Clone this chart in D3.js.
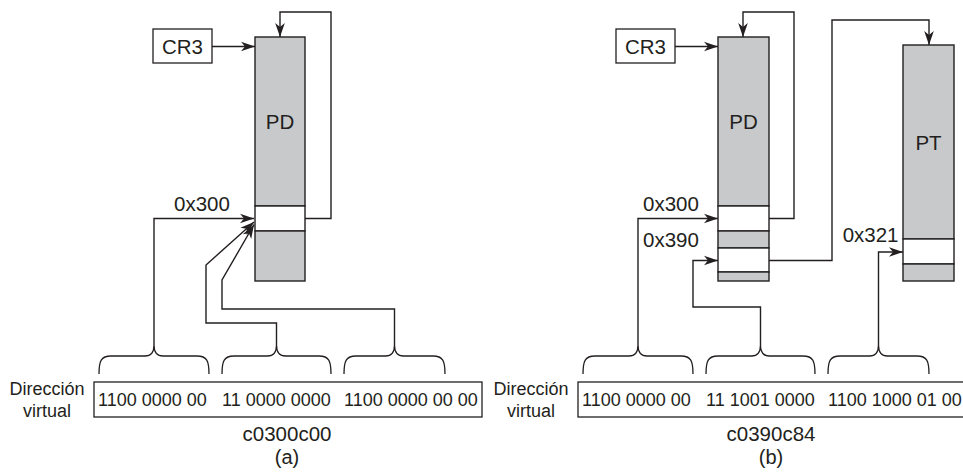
<!DOCTYPE html>
<html><head><meta charset="utf-8">
<script src="https://cdn.jsdelivr.net/npm/d3@7"></script>
<style>html,body{margin:0;padding:0;background:#fff;overflow:hidden}
text{font-family:"Liberation Sans",Arimo,Helvetica,Arial,sans-serif}</style>
</head><body>
<script>
// ---- data ----
const panels = ["a", "b"];
const captions = ["(a)", "(b)"];
const hexAddresses = ["c0300c00", "c0390c84"];
const bitGroupsA = ["1100 0000 00", "11 0000 0000", "1100 0000 00 00"];
const bitGroupsB = ["1100 0000 00", "11 1001 0000", "1100 1000 01 00"];
const addrLabel = ["Dirección", "virtual"];
const registerName = "CR3";
const tableNames = ["PD", "PT"];
const pdIndexA = ["0x300"];
const pdIndexB = ["0x300", "0x390"];
const ptIndexB = ["0x321"];
// table segment kinds top->bottom (e = empty/gray, s = selected entry)
const pdSegmentsA = ["e", "s", "e"];
const pdSegmentsB = ["e", "s", "e", "s", "e"];
const ptSegmentsB = ["e", "s", "e"];

// ---- layout ----
const W = 963, H = 475;
const ink = "#231f20", grey = "#c8c9cb";
const topShift = d3.scaleOrdinal(panels, [0, 463]);
const botShift = d3.scaleOrdinal(panels, [0, 484]);

const svg = d3.select("body").append("svg").attr("width", W).attr("height", H);

svg.append("defs").append("marker").attr("id", "ah")
  .attr("viewBox", "-14 -6 15 12").attr("markerUnits", "userSpaceOnUse")
  .attr("markerWidth", 15).attr("markerHeight", 12).attr("refX", 0).attr("refY", 0)
  .attr("orient", "auto")
  .append("path").attr("d", "M0,0 L-14,-4.8 L-10,0 L-14,4.8 Z").attr("fill", ink);

const line = d3.line();
function arrow(g, pts, head = true) {
  g.append("path").attr("d", line(pts)).attr("fill", "none").attr("stroke", ink)
    .attr("stroke-width", 1.4).attr("marker-end", head ? "url(#ah)" : null);
}
function txt(g, x, y, s, size, anchor = "middle") {
  g.append("text").attr("x", x).attr("y", y).attr("text-anchor", anchor)
    .attr("font-family", "Liberation Sans, Arimo, Helvetica, Arial, sans-serif")
    .attr("font-size", size).attr("fill", ink).text(s);
}
function brace(g, x1, x2, yTip, yH, yEnd) {
  const xc = (x1 + x2) / 2;
  const p = d3.path();
  p.moveTo(x1, yEnd);
  p.bezierCurveTo(x1, yH + 5, x1 + 2, yH, x1 + 12, yH);
  p.lineTo(xc - 9, yH);
  p.bezierCurveTo(xc - 3, yH, xc, yH - 4, xc, yTip);
  p.bezierCurveTo(xc, yH - 4, xc + 3, yH, xc + 9, yH);
  p.lineTo(x2 - 12, yH);
  p.bezierCurveTo(x2 - 2, yH, x2, yH + 5, x2, yEnd);
  g.append("path").attr("d", p.toString()).attr("fill", "none")
    .attr("stroke", ink).attr("stroke-width", 1.3);
  return xc;
}
function table(g, x, y0, w, bounds, kinds) {
  kinds.forEach((k, i) => {
    g.append("rect").attr("x", x).attr("y", bounds[i]).attr("width", w)
      .attr("height", bounds[i + 1] - bounds[i])
      .attr("fill", k === "s" ? "#fff" : grey).attr("stroke", ink).attr("stroke-width", 1.4);
  });
}
function register(g) {
  g.append("rect").attr("x", 153).attr("y", 29).attr("width", 59).attr("height", 34)
    .attr("fill", "#fff").attr("stroke", ink).attr("stroke-width", 1.3);
  txt(g, 182.5, 53.5, registerName, 20.5);
  arrow(g, [[212, 46.5], [255, 46.5]]);
}
function address(g, groups, hex, cap) {
  g.append("rect").attr("x", 94).attr("y", 382).attr("width", 388).attr("height", 35)
    .attr("fill", "#fff").attr("stroke", ink).attr("stroke-width", 1.3);
  txt(g, 47, 394.5, addrLabel[0], 18);
  txt(g, 47, 417, addrLabel[1], 18);
  const gx = [98, 222, 344];
  groups.forEach((s, i) => txt(g, gx[i], 405.5, s, 18, "start"));
  txt(g, 287, 441, hex, 20.5);
  txt(g, 287, 464, cap, 20);
  const br = [[99, 209], [222, 331], [344, 445]];
  return br.map(b => brace(g, b[0], b[1], 345, 356, 374));
}

// ---- panel (a) ----
{
  const gt = svg.append("g").attr("transform", `translate(${topShift("a")},0)`);
  const gb = svg.append("g").attr("transform", `translate(${botShift("a")},0)`);
  register(gt);
  table(gt, 255, 37, 50, [37, 206, 231, 281], pdSegmentsA);
  txt(gt, 280, 129, tableNames[0], 20.5);
  txt(gt, 202, 211, pdIndexA[0], 20.5);
  arrow(gt, [[305, 218.5], [331, 218.5], [331, 12], [280, 12], [280, 37]]);
  const tips = address(gb, bitGroupsA, hexAddresses[0], captions[0]);
  arrow(svg, [[tips[0], 345], [tips[0], 218.5], [254, 218.5]]);
  arrow(svg, [[tips[1], 345], [tips[1], 323], [206, 323], [206, 265], [254, 222]]);
  arrow(svg, [[tips[2], 345], [tips[2], 309], [222, 309], [222, 280], [254, 224.5]]);
}
// ---- panel (b) ----
{
  const dx = topShift("b");
  const gt = svg.append("g").attr("transform", `translate(${dx},0)`);
  const gb = svg.append("g").attr("transform", `translate(${botShift("b")},0)`);
  register(gt);
  table(gt, 255, 37, 51, [37, 206, 231, 248, 272, 281], pdSegmentsB);
  txt(gt, 280.5, 129, tableNames[0], 20.5);
  txt(gt, 208, 211, pdIndexB[0], 20.5);
  txt(gt, 208, 247, pdIndexB[1], 20.5);
  arrow(gt, [[306, 218.5], [331, 218.5], [331, 12], [280, 12], [280, 37]]);
  // PT
  table(gt, 440, 45, 51, [45, 239, 264, 281], ptSegmentsB);
  txt(gt, 465.5, 150, tableNames[1], 20.5);
  txt(gt, 435.5, 242, ptIndexB[0], 20.5, "end");
  arrow(gt, [[306, 260.5], [369, 260.5], [369, 20], [466, 20], [466, 45]]);
  const tips = address(gb, bitGroupsB, hexAddresses[1], captions[1]);
  arrow(svg, [[tips[0] + botShift("b"), 345], [tips[0] + botShift("b"), 218.5], [dx + 255, 218.5]]);
  arrow(svg, [[tips[1] + botShift("b"), 345], [tips[1] + botShift("b"), 307], [693, 307], [693, 260.5], [dx + 255, 260.5]]);
  arrow(svg, [[tips[2] + botShift("b"), 345], [tips[2] + botShift("b"), 252], [dx + 440, 252]]);
}
</script>
</body></html>
